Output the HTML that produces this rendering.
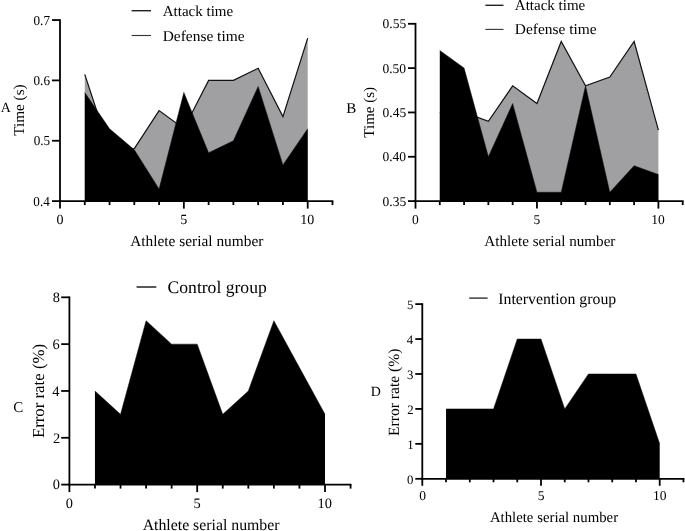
<!DOCTYPE html>
<html><head><meta charset="utf-8"><style>
html,body{margin:0;padding:0;background:#fff;width:685px;height:531px;overflow:hidden}
svg{display:block;filter:blur(0.4px)}
text{font-family:"Liberation Serif",serif;text-rendering:geometricPrecision}
</style></head><body>
<svg width="685" height="531" viewBox="0 0 685 531">
<rect width="685" height="531" fill="#fff"/>
<polygon points="84.77,201.10 84.77,74.37 109.54,149.80 134.31,148.60 159.08,110.57 183.85,128.68 208.62,80.40 233.39,80.40 258.16,68.33 282.93,116.61 307.70,38.15 307.70,201.10" fill="#a0a0a3" stroke="none"/>
<polyline points="84.77,74.37 109.54,149.80 134.31,148.60 159.08,110.57 183.85,128.68 208.62,80.40 233.39,80.40 258.16,68.33 282.93,116.61 307.70,38.15" fill="none" stroke="#111" stroke-width="1.2" stroke-linejoin="miter"/>
<polygon points="84.77,201.10 84.77,92.47 109.54,128.68 134.31,149.80 159.08,189.03 183.85,92.47 208.62,152.82 233.39,140.75 258.16,86.44 282.93,164.89 307.70,128.68 307.70,201.10" fill="#000" stroke="none"/>
<polyline points="84.77,92.47 109.54,128.68 134.31,149.80 159.08,189.03 183.85,92.47 208.62,152.82 233.39,140.75 258.16,86.44 282.93,164.89 307.70,128.68" fill="none" stroke="#111" stroke-width="0.5" stroke-linejoin="miter"/>
<line x1="60.00" y1="19.15" x2="60.00" y2="202.00" stroke="#000" stroke-width="1.8" stroke-linecap="butt"/>
<line x1="52.00" y1="201.10" x2="60.00" y2="201.10" stroke="#000" stroke-width="1.8" stroke-linecap="butt"/>
<line x1="52.00" y1="140.75" x2="60.00" y2="140.75" stroke="#000" stroke-width="1.8" stroke-linecap="butt"/>
<line x1="52.00" y1="80.40" x2="60.00" y2="80.40" stroke="#000" stroke-width="1.8" stroke-linecap="butt"/>
<line x1="52.00" y1="20.05" x2="60.00" y2="20.05" stroke="#000" stroke-width="1.8" stroke-linecap="butt"/>
<line x1="59.10" y1="201.10" x2="333.37" y2="201.10" stroke="#000" stroke-width="1.8" stroke-linecap="butt"/>
<line x1="60.00" y1="201.10" x2="60.00" y2="208.60" stroke="#000" stroke-width="1.8" stroke-linecap="butt"/>
<line x1="84.77" y1="201.10" x2="84.77" y2="205.10" stroke="#000" stroke-width="1.8" stroke-linecap="butt"/>
<line x1="109.54" y1="201.10" x2="109.54" y2="205.10" stroke="#000" stroke-width="1.8" stroke-linecap="butt"/>
<line x1="134.31" y1="201.10" x2="134.31" y2="205.10" stroke="#000" stroke-width="1.8" stroke-linecap="butt"/>
<line x1="159.08" y1="201.10" x2="159.08" y2="205.10" stroke="#000" stroke-width="1.8" stroke-linecap="butt"/>
<line x1="183.85" y1="201.10" x2="183.85" y2="208.60" stroke="#000" stroke-width="1.8" stroke-linecap="butt"/>
<line x1="208.62" y1="201.10" x2="208.62" y2="205.10" stroke="#000" stroke-width="1.8" stroke-linecap="butt"/>
<line x1="233.39" y1="201.10" x2="233.39" y2="205.10" stroke="#000" stroke-width="1.8" stroke-linecap="butt"/>
<line x1="258.16" y1="201.10" x2="258.16" y2="205.10" stroke="#000" stroke-width="1.8" stroke-linecap="butt"/>
<line x1="282.93" y1="201.10" x2="282.93" y2="205.10" stroke="#000" stroke-width="1.8" stroke-linecap="butt"/>
<line x1="307.70" y1="201.10" x2="307.70" y2="208.60" stroke="#000" stroke-width="1.8" stroke-linecap="butt"/>
<line x1="332.47" y1="201.10" x2="332.47" y2="205.10" stroke="#000" stroke-width="1.8" stroke-linecap="butt"/>
<text x="33.37" y="205.73" font-size="13.7" fill="#000" textLength="16.44" lengthAdjust="spacingAndGlyphs">0.4</text>
<text x="33.69" y="145.38" font-size="13.7" fill="#000" textLength="16.44" lengthAdjust="spacingAndGlyphs">0.5</text>
<text x="33.55" y="85.03" font-size="13.7" fill="#000" textLength="16.44" lengthAdjust="spacingAndGlyphs">0.6</text>
<text x="33.53" y="24.68" font-size="13.7" fill="#000" textLength="16.44" lengthAdjust="spacingAndGlyphs">0.7</text>
<text x="56.50" y="223.80" font-size="14" fill="#000">0</text>
<text x="180.22" y="223.80" font-size="14" fill="#000">5</text>
<text x="300.35" y="223.80" font-size="14" fill="#000">10</text>
<text x="130.19" y="245.80" font-size="15.3" fill="#000" textLength="133.22" lengthAdjust="spacingAndGlyphs">Athlete serial number</text>
<text transform="translate(24.20,110.20) rotate(-90)" x="-25.51" y="0" font-size="15.2" fill="#000">Time (s)</text>
<text x="0.86" y="112.20" font-size="14" fill="#000">A</text>
<text x="162.75" y="16.00" font-size="15" fill="#000">Attack time</text>
<text x="162.67" y="40.50" font-size="15" fill="#000" textLength="81.93" lengthAdjust="spacingAndGlyphs">Defense time</text>
<line x1="131.60" y1="10.70" x2="151.00" y2="10.70" stroke="#222" stroke-width="1.4" stroke-linecap="butt"/>
<line x1="131.60" y1="35.50" x2="151.00" y2="35.50" stroke="#333" stroke-width="1.1" stroke-linecap="butt"/>
<polygon points="439.79,201.10 439.79,112.45 464.08,112.45 488.37,121.31 512.66,85.85 536.95,103.58 561.24,41.53 585.53,85.85 609.82,76.99 634.11,41.53 658.40,130.18 658.40,201.10" fill="#a0a0a3" stroke="none"/>
<polyline points="439.79,112.45 464.08,112.45 488.37,121.31 512.66,85.85 536.95,103.58 561.24,41.53 585.53,85.85 609.82,76.99 634.11,41.53 658.40,130.18" fill="none" stroke="#111" stroke-width="1.2" stroke-linejoin="miter"/>
<polygon points="439.79,201.10 439.79,50.39 464.08,68.12 488.37,156.77 512.66,103.58 536.95,192.23 561.24,192.23 585.53,85.85 609.82,192.23 634.11,165.64 658.40,174.50 658.40,201.10" fill="#000" stroke="none"/>
<polyline points="439.79,50.39 464.08,68.12 488.37,156.77 512.66,103.58 536.95,192.23 561.24,192.23 585.53,85.85 609.82,192.23 634.11,165.64 658.40,174.50" fill="none" stroke="#111" stroke-width="0.5" stroke-linejoin="miter"/>
<line x1="415.50" y1="22.90" x2="415.50" y2="202.00" stroke="#000" stroke-width="1.8" stroke-linecap="butt"/>
<line x1="408.00" y1="201.10" x2="415.50" y2="201.10" stroke="#000" stroke-width="1.8" stroke-linecap="butt"/>
<line x1="408.00" y1="156.77" x2="415.50" y2="156.77" stroke="#000" stroke-width="1.8" stroke-linecap="butt"/>
<line x1="408.00" y1="112.45" x2="415.50" y2="112.45" stroke="#000" stroke-width="1.8" stroke-linecap="butt"/>
<line x1="408.00" y1="68.12" x2="415.50" y2="68.12" stroke="#000" stroke-width="1.8" stroke-linecap="butt"/>
<line x1="408.00" y1="23.80" x2="415.50" y2="23.80" stroke="#000" stroke-width="1.8" stroke-linecap="butt"/>
<line x1="414.60" y1="201.10" x2="683.59" y2="201.10" stroke="#000" stroke-width="1.8" stroke-linecap="butt"/>
<line x1="415.50" y1="201.10" x2="415.50" y2="208.60" stroke="#000" stroke-width="1.8" stroke-linecap="butt"/>
<line x1="439.79" y1="201.10" x2="439.79" y2="205.10" stroke="#000" stroke-width="1.8" stroke-linecap="butt"/>
<line x1="464.08" y1="201.10" x2="464.08" y2="205.10" stroke="#000" stroke-width="1.8" stroke-linecap="butt"/>
<line x1="488.37" y1="201.10" x2="488.37" y2="205.10" stroke="#000" stroke-width="1.8" stroke-linecap="butt"/>
<line x1="512.66" y1="201.10" x2="512.66" y2="205.10" stroke="#000" stroke-width="1.8" stroke-linecap="butt"/>
<line x1="536.95" y1="201.10" x2="536.95" y2="208.60" stroke="#000" stroke-width="1.8" stroke-linecap="butt"/>
<line x1="561.24" y1="201.10" x2="561.24" y2="205.10" stroke="#000" stroke-width="1.8" stroke-linecap="butt"/>
<line x1="585.53" y1="201.10" x2="585.53" y2="205.10" stroke="#000" stroke-width="1.8" stroke-linecap="butt"/>
<line x1="609.82" y1="201.10" x2="609.82" y2="205.10" stroke="#000" stroke-width="1.8" stroke-linecap="butt"/>
<line x1="634.11" y1="201.10" x2="634.11" y2="205.10" stroke="#000" stroke-width="1.8" stroke-linecap="butt"/>
<line x1="658.40" y1="201.10" x2="658.40" y2="208.60" stroke="#000" stroke-width="1.8" stroke-linecap="butt"/>
<line x1="682.69" y1="201.10" x2="682.69" y2="205.10" stroke="#000" stroke-width="1.8" stroke-linecap="butt"/>
<text x="382.52" y="205.66" font-size="13.5" fill="#000">0.35</text>
<text x="382.49" y="161.34" font-size="13.5" fill="#000">0.40</text>
<text x="382.52" y="117.01" font-size="13.5" fill="#000">0.45</text>
<text x="382.49" y="72.69" font-size="13.5" fill="#000">0.50</text>
<text x="382.52" y="28.36" font-size="13.5" fill="#000">0.55</text>
<text x="412.12" y="224.00" font-size="13.5" fill="#000">0</text>
<text x="533.45" y="224.00" font-size="13.5" fill="#000">5</text>
<text x="651.31" y="224.00" font-size="13.5" fill="#000">10</text>
<text x="484.36" y="245.60" font-size="15.13" fill="#000">Athlete serial number</text>
<text transform="translate(374.30,112.50) rotate(-90)" x="-25.17" y="0" font-size="15" fill="#000">Time (s)</text>
<text x="346.28" y="113.20" font-size="15" fill="#000">B</text>
<text x="514.85" y="10.00" font-size="15" fill="#000">Attack time</text>
<text x="514.77" y="34.40" font-size="15" fill="#000" textLength="81.93" lengthAdjust="spacingAndGlyphs">Defense time</text>
<line x1="485.40" y1="5.30" x2="503.50" y2="5.30" stroke="#222" stroke-width="1.4" stroke-linecap="butt"/>
<line x1="485.40" y1="29.40" x2="503.50" y2="29.40" stroke="#333" stroke-width="1.1" stroke-linecap="butt"/>
<polygon points="94.96,484.60 94.96,390.96 120.52,414.37 146.08,320.73 171.64,344.14 197.20,344.14 222.76,414.37 248.32,390.96 273.88,320.73 299.44,367.55 325.00,414.37 325.00,484.60" fill="#000" stroke="none"/>
<polyline points="94.96,390.96 120.52,414.37 146.08,320.73 171.64,344.14 197.20,344.14 222.76,414.37 248.32,390.96 273.88,320.73 299.44,367.55 325.00,414.37" fill="none" stroke="#111" stroke-width="0.5" stroke-linejoin="miter"/>
<line x1="69.40" y1="296.42" x2="69.40" y2="485.50" stroke="#000" stroke-width="1.8" stroke-linecap="butt"/>
<line x1="61.20" y1="484.60" x2="69.40" y2="484.60" stroke="#000" stroke-width="1.8" stroke-linecap="butt"/>
<line x1="61.20" y1="437.78" x2="69.40" y2="437.78" stroke="#000" stroke-width="1.8" stroke-linecap="butt"/>
<line x1="61.20" y1="390.96" x2="69.40" y2="390.96" stroke="#000" stroke-width="1.8" stroke-linecap="butt"/>
<line x1="61.20" y1="344.14" x2="69.40" y2="344.14" stroke="#000" stroke-width="1.8" stroke-linecap="butt"/>
<line x1="61.20" y1="297.32" x2="69.40" y2="297.32" stroke="#000" stroke-width="1.8" stroke-linecap="butt"/>
<line x1="68.50" y1="484.60" x2="351.46" y2="484.60" stroke="#000" stroke-width="1.8" stroke-linecap="butt"/>
<line x1="69.40" y1="484.60" x2="69.40" y2="492.10" stroke="#000" stroke-width="1.8" stroke-linecap="butt"/>
<line x1="94.96" y1="484.60" x2="94.96" y2="488.60" stroke="#000" stroke-width="1.8" stroke-linecap="butt"/>
<line x1="120.52" y1="484.60" x2="120.52" y2="488.60" stroke="#000" stroke-width="1.8" stroke-linecap="butt"/>
<line x1="146.08" y1="484.60" x2="146.08" y2="488.60" stroke="#000" stroke-width="1.8" stroke-linecap="butt"/>
<line x1="171.64" y1="484.60" x2="171.64" y2="488.60" stroke="#000" stroke-width="1.8" stroke-linecap="butt"/>
<line x1="197.20" y1="484.60" x2="197.20" y2="492.10" stroke="#000" stroke-width="1.8" stroke-linecap="butt"/>
<line x1="222.76" y1="484.60" x2="222.76" y2="488.60" stroke="#000" stroke-width="1.8" stroke-linecap="butt"/>
<line x1="248.32" y1="484.60" x2="248.32" y2="488.60" stroke="#000" stroke-width="1.8" stroke-linecap="butt"/>
<line x1="273.88" y1="484.60" x2="273.88" y2="488.60" stroke="#000" stroke-width="1.8" stroke-linecap="butt"/>
<line x1="299.44" y1="484.60" x2="299.44" y2="488.60" stroke="#000" stroke-width="1.8" stroke-linecap="butt"/>
<line x1="325.00" y1="484.60" x2="325.00" y2="492.10" stroke="#000" stroke-width="1.8" stroke-linecap="butt"/>
<line x1="350.56" y1="484.60" x2="350.56" y2="488.60" stroke="#000" stroke-width="1.8" stroke-linecap="butt"/>
<text x="52.65" y="489.47" font-size="14.4" fill="#000">0</text>
<text x="52.91" y="442.65" font-size="14.4" fill="#000">2</text>
<text x="52.33" y="395.83" font-size="14.4" fill="#000">4</text>
<text x="52.53" y="349.01" font-size="14.4" fill="#000">6</text>
<text x="52.65" y="302.19" font-size="14.4" fill="#000">8</text>
<text x="65.80" y="508.00" font-size="14.4" fill="#000">0</text>
<text x="193.47" y="508.00" font-size="14.4" fill="#000">5</text>
<text x="317.44" y="508.00" font-size="14.4" fill="#000">10</text>
<text x="142.65" y="530.00" font-size="15.8" fill="#000">Athlete serial number</text>
<text transform="translate(43.80,391.10) rotate(-90)" x="-46.97" y="0" font-size="16.8" fill="#000">Error rate (%)</text>
<text x="13.17" y="412.20" font-size="15" fill="#000">C</text>
<text x="167.56" y="292.50" font-size="17.6" fill="#000">Control group</text>
<line x1="136.60" y1="287.00" x2="156.30" y2="287.00" stroke="#222" stroke-width="1.5" stroke-linecap="butt"/>
<polygon points="446.04,478.80 446.04,408.92 469.78,408.92 493.52,408.92 517.26,339.04 541.00,339.04 564.74,408.92 588.48,373.98 612.22,373.98 635.96,373.98 659.70,443.86 659.70,478.80" fill="#000" stroke="none"/>
<polyline points="446.04,408.92 469.78,408.92 493.52,408.92 517.26,339.04 541.00,339.04 564.74,408.92 588.48,373.98 612.22,373.98 635.96,373.98 659.70,443.86" fill="none" stroke="#111" stroke-width="0.5" stroke-linejoin="miter"/>
<line x1="422.30" y1="303.20" x2="422.30" y2="479.70" stroke="#000" stroke-width="1.8" stroke-linecap="butt"/>
<line x1="415.30" y1="478.80" x2="422.30" y2="478.80" stroke="#000" stroke-width="1.8" stroke-linecap="butt"/>
<line x1="415.30" y1="443.86" x2="422.30" y2="443.86" stroke="#000" stroke-width="1.8" stroke-linecap="butt"/>
<line x1="415.30" y1="408.92" x2="422.30" y2="408.92" stroke="#000" stroke-width="1.8" stroke-linecap="butt"/>
<line x1="415.30" y1="373.98" x2="422.30" y2="373.98" stroke="#000" stroke-width="1.8" stroke-linecap="butt"/>
<line x1="415.30" y1="339.04" x2="422.30" y2="339.04" stroke="#000" stroke-width="1.8" stroke-linecap="butt"/>
<line x1="415.30" y1="304.10" x2="422.30" y2="304.10" stroke="#000" stroke-width="1.8" stroke-linecap="butt"/>
<line x1="421.40" y1="478.80" x2="684.34" y2="478.80" stroke="#000" stroke-width="1.8" stroke-linecap="butt"/>
<line x1="422.30" y1="478.80" x2="422.30" y2="485.80" stroke="#000" stroke-width="1.8" stroke-linecap="butt"/>
<line x1="446.04" y1="478.80" x2="446.04" y2="482.30" stroke="#000" stroke-width="1.8" stroke-linecap="butt"/>
<line x1="469.78" y1="478.80" x2="469.78" y2="482.30" stroke="#000" stroke-width="1.8" stroke-linecap="butt"/>
<line x1="493.52" y1="478.80" x2="493.52" y2="482.30" stroke="#000" stroke-width="1.8" stroke-linecap="butt"/>
<line x1="517.26" y1="478.80" x2="517.26" y2="482.30" stroke="#000" stroke-width="1.8" stroke-linecap="butt"/>
<line x1="541.00" y1="478.80" x2="541.00" y2="485.80" stroke="#000" stroke-width="1.8" stroke-linecap="butt"/>
<line x1="564.74" y1="478.80" x2="564.74" y2="482.30" stroke="#000" stroke-width="1.8" stroke-linecap="butt"/>
<line x1="588.48" y1="478.80" x2="588.48" y2="482.30" stroke="#000" stroke-width="1.8" stroke-linecap="butt"/>
<line x1="612.22" y1="478.80" x2="612.22" y2="482.30" stroke="#000" stroke-width="1.8" stroke-linecap="butt"/>
<line x1="635.96" y1="478.80" x2="635.96" y2="482.30" stroke="#000" stroke-width="1.8" stroke-linecap="butt"/>
<line x1="659.70" y1="478.80" x2="659.70" y2="485.80" stroke="#000" stroke-width="1.8" stroke-linecap="butt"/>
<line x1="683.44" y1="478.80" x2="683.44" y2="482.30" stroke="#000" stroke-width="1.8" stroke-linecap="butt"/>
<text x="407.09" y="483.73" font-size="12.8" fill="#000">0</text>
<text x="407.37" y="448.79" font-size="12.8" fill="#000">1</text>
<text x="407.32" y="413.85" font-size="12.8" fill="#000">2</text>
<text x="407.11" y="378.91" font-size="12.8" fill="#000">3</text>
<text x="406.80" y="343.97" font-size="12.8" fill="#000">4</text>
<text x="407.11" y="309.03" font-size="12.8" fill="#000">5</text>
<text x="419.23" y="500.40" font-size="13.5" fill="#000">0</text>
<text x="537.80" y="500.40" font-size="13.5" fill="#000">5</text>
<text x="652.91" y="500.40" font-size="13.5" fill="#000">10</text>
<text x="489.89" y="521.90" font-size="14.8" fill="#000">Athlete serial number</text>
<text transform="translate(398.70,392.40) rotate(-90)" x="-43.62" y="0" font-size="15.6" fill="#000">Error rate (%)</text>
<text x="370.81" y="396.20" font-size="14" fill="#000">D</text>
<text x="498.23" y="303.50" font-size="15.8" fill="#000">Intervention group</text>
<line x1="469.20" y1="298.10" x2="487.60" y2="298.10" stroke="#222" stroke-width="1.3" stroke-linecap="butt"/>
</svg>
</body></html>
